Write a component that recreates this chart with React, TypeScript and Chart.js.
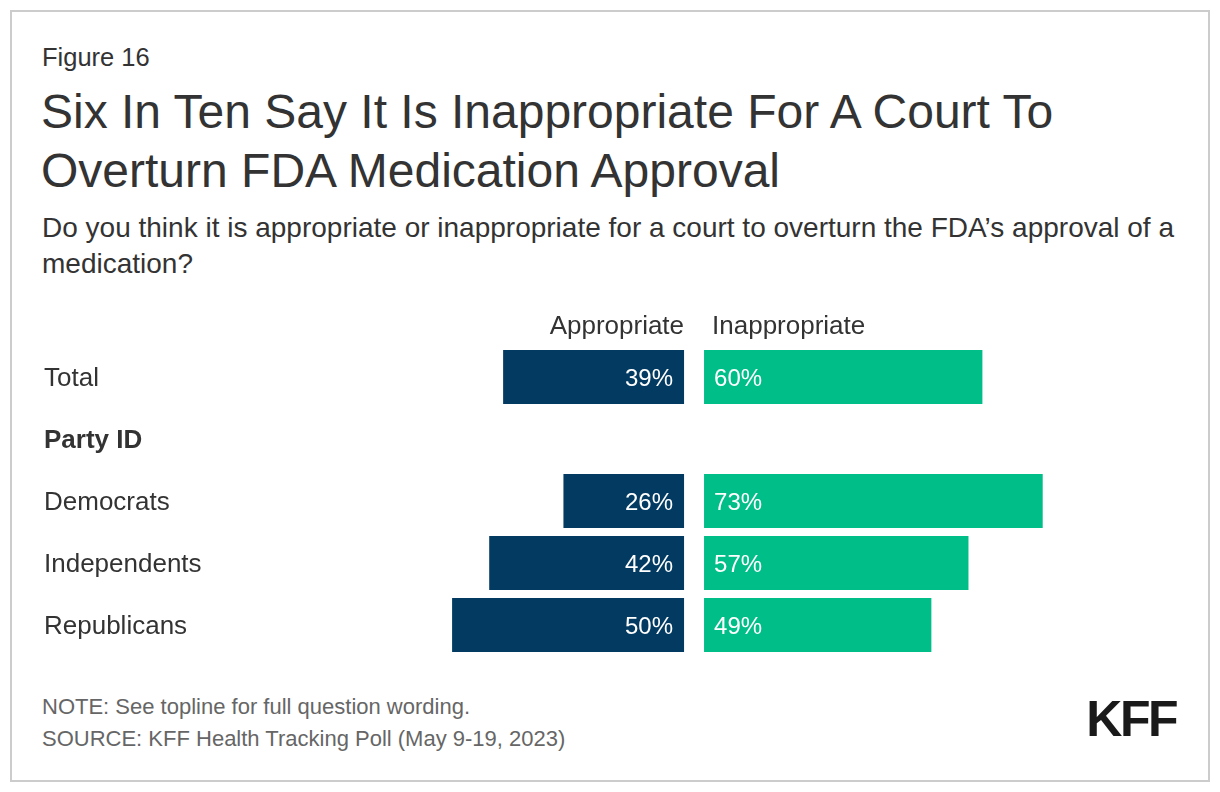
import React, { useEffect, useRef } from "react";
import { Chart, registerables } from "chart.js";

Chart.register(...registerables);

const FONT = 'Arial, "Liberation Sans", Helvetica, sans-serif';

const categories = ["Total", "Party ID", "Democrats", "Independents", "Republicans"];
const appropriate: (number | null)[] = [39, null, 26, 42, 50];
const inappropriate: (number | null)[] = [60, null, 73, 57, 49];
const seriesNames = ["Appropriate", "Inappropriate"];
const boldRows = [1];

const NAVY = "#023a62";
const GREEN = "#00be88";
const GAP = 4.31;
const X_MIN = -83;
const X_MAX = 111;
const TEXT_DY = 2;

const labelPlugin = {
  id: "barLabels",
  afterDatasetsDraw(chart: any) {
    const { ctx, scales, chartArea } = chart;
    const x = scales.x;
    const y = scales.y;
    const zero = x.getPixelForValue(0);
    const startRight = x.getPixelForValue(GAP);
    ctx.save();
    ctx.textBaseline = "middle";
    // column headers
    ctx.font = `26px ${FONT}`;
    ctx.fillStyle = "#333333";
    ctx.textAlign = "right";
    ctx.fillText(seriesNames[0], zero, chartArea.top - 21 + TEXT_DY);
    ctx.textAlign = "left";
    ctx.fillText(seriesNames[1], startRight + 8, chartArea.top - 21 + TEXT_DY);
    // category labels on the y axis
    ctx.textAlign = "left";
    categories.forEach((c, i) => {
      const yy = y.getPixelForValue(i) + TEXT_DY;
      ctx.font = `${boldRows.includes(i) ? "bold " : ""}26px ${FONT}`;
      ctx.fillText(c, y.left, yy);
    });
    // values inside bars
    ctx.font = `24px ${FONT}`;
    ctx.fillStyle = "#ffffff";
    categories.forEach((_, i) => {
      const yy = y.getPixelForValue(i) + TEXT_DY;
      const a = appropriate[i];
      const b = inappropriate[i];
      if (a != null) {
        ctx.textAlign = "right";
        ctx.fillText(`${a}%`, zero - 11, yy);
      }
      if (b != null) {
        ctx.textAlign = "left";
        ctx.fillText(`${b}%`, startRight + 10, yy);
      }
    });
    ctx.restore();
  },
};

function BarChart() {
  const ref = useRef<HTMLCanvasElement>(null);
  useEffect(() => {
    if (!ref.current) return;
    const chart = new Chart(ref.current, {
      type: "bar",
      data: {
        labels: categories,
        datasets: [
          {
            label: seriesNames[0],
            data: appropriate.map((v) => (v == null ? null : [-v, 0])) as any,
            backgroundColor: NAVY,
            grouped: false,
            categoryPercentage: 1,
            barPercentage: 54 / 62,
          } as any,
          {
            label: seriesNames[1],
            data: inappropriate.map((v) => (v == null ? null : [GAP, GAP + v])) as any,
            backgroundColor: GREEN,
            grouped: false,
            categoryPercentage: 1,
            barPercentage: 54 / 62,
          } as any,
        ],
      },
      options: {
        indexAxis: "y",
        animation: false,
        responsive: false,
        devicePixelRatio: 1,
        layout: { padding: { left: 14, right: 1, top: 46, bottom: 14 } },
        plugins: { legend: { display: false }, tooltip: { enabled: false } },
        scales: {
          x: { display: false, min: X_MIN, max: X_MAX },
          y: {
            position: "left",
            grid: { display: false },
            border: { display: false },
            ticks: { display: false },
            afterFit: (s: any) => {
              s.width = 255;
            },
          } as any,
        },
      },
      plugins: [labelPlugin],
    });
    return () => chart.destroy();
  }, []);
  return (
    <canvas
      ref={ref}
      width={1170}
      height={370}
      style={{ position: "absolute", left: 30, top: 300, width: 1170, height: 370 }}
    />
  );
}

export default function App() {
  return (
    <div
      style={{
        position: "absolute",
        left: 0,
        top: 0,
        width: 1220,
        height: 792,
        background: "#fff",
        fontFamily: FONT,
        color: "#333333",
      }}
    >
      <div
        style={{
          position: "absolute",
          left: 10,
          top: 10,
          width: 1200,
          height: 772,
          border: "2px solid #cccccc",
          boxSizing: "border-box",
        }}
      />
      <div style={{ position: "absolute", left: 42, top: 45, fontSize: 25.5, lineHeight: "25.5px", whiteSpace: "nowrap" }}>
        Figure 16
      </div>
      <div style={{ position: "absolute", left: 41, top: 82, fontSize: 48, lineHeight: "59px", whiteSpace: "nowrap" }}>
        Six In Ten Say It Is Inappropriate For A Court To
        <br />
        Overturn FDA Medication Approval
      </div>
      <div style={{ position: "absolute", left: 42, top: 209.5, fontSize: 28, lineHeight: "36px", whiteSpace: "nowrap" }}>
        Do you think it is appropriate or inappropriate for a court to overturn the FDA’s approval of a
        <br />
        medication?
      </div>
      <BarChart />
      <div
        style={{
          position: "absolute",
          left: 42,
          top: 691,
          fontSize: 22,
          lineHeight: "32px",
          color: "#666666",
          whiteSpace: "nowrap",
        }}
      >
        NOTE: See topline for full question wording.
        <br />
        SOURCE: KFF Health Tracking Poll (May 9-19, 2023)
      </div>
      <div
        style={{
          position: "absolute",
          right: 1220 - 1176,
          top: 694,
          fontSize: 50,
          lineHeight: "50px",
          fontWeight: "bold",
          letterSpacing: -2.5,
          color: "#1a1a1a",
        }}
      >
        KFF
      </div>
    </div>
  );
}
